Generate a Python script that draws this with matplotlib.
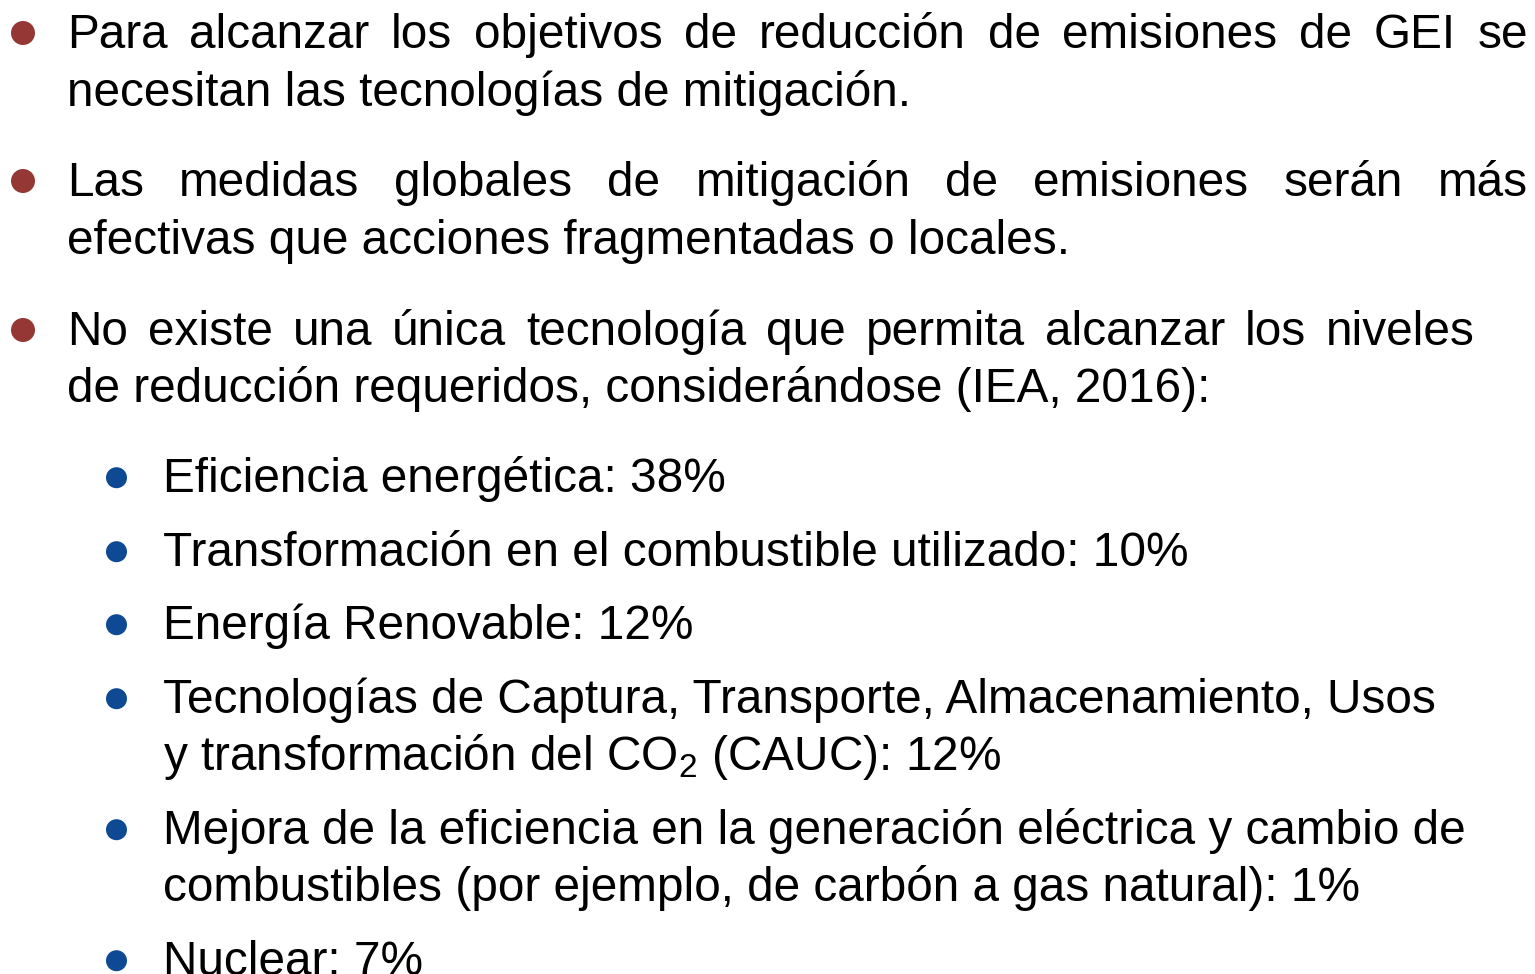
import matplotlib
matplotlib.use("Agg")
import matplotlib.pyplot as plt
from matplotlib.patches import Circle

plt.rcParams['mathtext.fontset'] = 'custom'
plt.rcParams['mathtext.rm'] = 'Liberation Sans'
plt.rcParams['mathtext.it'] = 'Liberation Sans'

W, H = 1535, 974
FONT = 'Liberation Sans'
FS = 34.4

# main bullets: list of lines (text, justified right edge or None)
main_bullets = [
    [("Para alcanzar los objetivos de reducción de emisiones de GEI se", 1528),
     ("necesitan las tecnologías de mitigación.", None)],
    [("Las medidas globales de mitigación de emisiones serán más", 1528),
     ("efectivas que acciones fragmentadas o locales.", None)],
    [("No existe una única tecnología que permita alcanzar los niveles", 1475),
     ("de reducción requeridos, considerándose (IEA, 2016):", None)],
]
main_baselines = [[48, 106], [196, 254], [345, 402]]

sub_bullets = [
    ["Eficiencia energética: 38%"],
    ["Transformación en el combustible utilizado: 10%"],
    ["Energía Renovable: 12%"],
    ["Tecnologías de Captura, Transporte, Almacenamiento, Usos",
     "y transformación del CO$_2$ (CAUC): 12%"],
    ["Mejora de la eficiencia en la generación eléctrica y cambio de",
     "combustibles (por ejemplo, de carbón a gas natural): 1%"],
    ["Nuclear: 7%"],
]
sub_baselines = [[492], [566], [639], [713, 770], [844, 901], [975]]

RED = '#953735'
BLUE = '#0D4A93'

fig = plt.figure(figsize=(W / 100, H / 100), dpi=100)
ax = fig.add_axes([0, 0, 1, 1])
ax.set_xlim(0, W)
ax.set_ylim(H, 0)
ax.axis('off')
fig.canvas.draw()
renderer = fig.canvas.get_renderer()


def width_px(s):
    t = ax.text(0, 0, s, fontsize=FS, family=FONT)
    bb = t.get_window_extent(renderer=renderer)
    t.remove()
    return bb.width


def put_line(text, x0, y, right):
    if right is None:
        ax.text(x0, y, text, fontsize=FS, family=FONT, va='baseline',
                ha='left', color='black')
        return
    words = text.split(' ')
    ws = [width_px(w) for w in words]
    gap = (right - x0 - sum(ws)) / (len(words) - 1)
    x = x0
    for w, wd in zip(words, ws):
        ax.text(x, y, w, fontsize=FS, family=FONT, va='baseline',
                ha='left', color='black')
        x += wd + gap


for lines, bls in zip(main_bullets, main_baselines):
    ax.add_patch(Circle((23, bls[0] - 15), 12, color=RED, lw=0))
    for (txt, right), y in zip(lines, bls):
        put_line(txt, 67, y, right)

for lines, bls in zip(sub_bullets, sub_baselines):
    ax.add_patch(Circle((116.5, bls[0] - 14.3), 10.5, color=BLUE, lw=0))
    for txt, y in zip(lines, bls):
        put_line(txt, 163, y, None)

fig.savefig('out.png', dpi=100, facecolor='white')
